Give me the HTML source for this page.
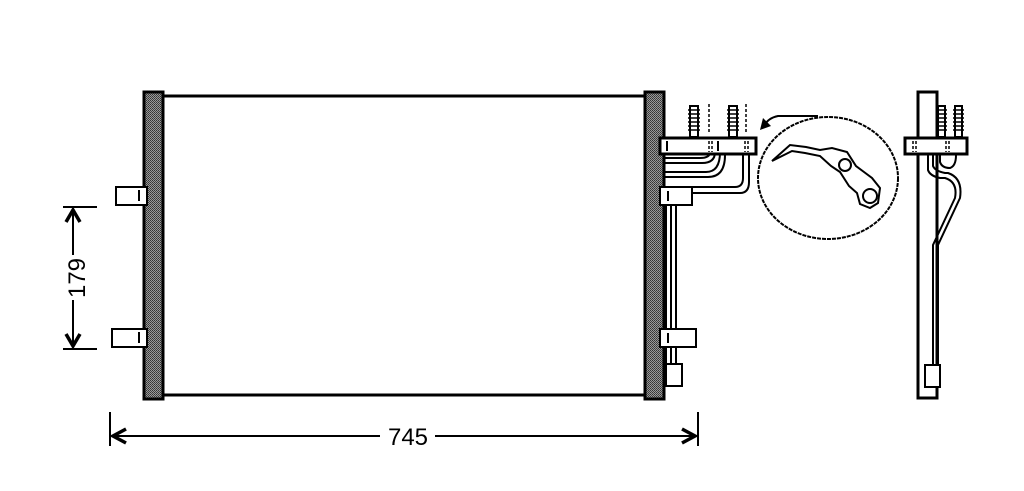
<!DOCTYPE html>
<html><head><meta charset="utf-8"><style>
html,body{margin:0;padding:0;background:#fff;width:1024px;height:491px;overflow:hidden}
text{font-family:"Liberation Sans",sans-serif}
</style></head><body>
<svg width="1024" height="491" viewBox="0 0 1024 491" xmlns="http://www.w3.org/2000/svg">
<defs>
<pattern id="h" width="2" height="2" patternUnits="userSpaceOnUse">
<rect width="2" height="2" fill="#999"/><rect width="1" height="1" fill="#333"/><rect x="1" y="1" width="1" height="1" fill="#444"/>
</pattern>
</defs>
<g fill="none" stroke="#000" stroke-width="3">
<line x1="162" y1="96" x2="645" y2="96"/>
<line x1="162" y1="395" x2="645" y2="395"/>
</g>
<rect x="144" y="92" width="19" height="307" fill="url(#h)" stroke="#000" stroke-width="3"/>
<rect x="645" y="92" width="19" height="307" fill="url(#h)" stroke="#000" stroke-width="3"/>
<g fill="#fff" stroke="#000" stroke-width="2">
<rect x="116" y="187" width="31" height="18"/>
<rect x="112" y="329" width="35" height="18"/>
</g>
<line x1="139" y1="190" x2="139" y2="201" stroke="#000" stroke-width="2"/>
<line x1="139" y1="332" x2="139" y2="343" stroke="#000" stroke-width="2"/>
<g stroke="#000" stroke-width="2" fill="none">
<line x1="63" y1="207" x2="97" y2="207"/>
<line x1="63" y1="349" x2="97" y2="349"/>
<line x1="73" y1="209" x2="73" y2="255"/>
<line x1="73" y1="300" x2="73" y2="347"/>
<line x1="110" y1="412" x2="110" y2="446"/>
<line x1="698" y1="412" x2="698" y2="446"/>
<line x1="112" y1="436" x2="380" y2="436"/>
<line x1="435" y1="436" x2="696" y2="436"/>
</g>
<g stroke="#000" stroke-width="3.5" fill="none" stroke-linejoin="miter">
<polyline points="66,222 73,210 80,222"/>
<polyline points="66,334 73,346 80,334"/>
<polyline points="126,429 113,436 126,443"/>
<polyline points="682,429 695,436 682,443"/>
</g>
<text x="408" y="445" font-size="24" text-anchor="middle">745</text>
<text transform="translate(85,278) rotate(-90)" font-size="24" text-anchor="middle">179</text>
<g fill="none" stroke="#000" stroke-width="2">
<line x1="666" y1="205" x2="666" y2="365"/>
<line x1="671" y1="205" x2="671" y2="365"/>
<line x1="676" y1="205" x2="676" y2="365"/>
<path d="M664 158 H700 Q710 158 710 152"/>
<path d="M664 163 H702 Q715 163 715 152"/>
<path d="M664 172 H706 Q720 172 720 152"/>
<path d="M664 177 H708 Q725 177 725 155"/>
<path d="M690 187 H735 Q743 187 743 178 V155"/>
<path d="M690 193 H740 Q749 193 749 182 V155"/>
</g>
<g fill="#fff" stroke="#000" stroke-width="2">
<rect x="660" y="187" width="32" height="18"/>
<rect x="660" y="329" width="36" height="18"/>
<rect x="666" y="364" width="16" height="22"/>
<rect x="660" y="138" width="96" height="16" stroke-width="3"/>
</g>
<g stroke="#000" stroke-width="2">
<line x1="667" y1="141" x2="667" y2="151"/>
<line x1="718" y1="141" x2="718" y2="151"/>
<line x1="668" y1="191" x2="668" y2="201"/>
<line x1="668" y1="333" x2="668" y2="343"/>
</g>
<g stroke="#000" stroke-width="1.5" stroke-dasharray="3,2">
<line x1="709" y1="141" x2="709" y2="152"/><line x1="712" y1="141" x2="712" y2="152"/>
<line x1="745" y1="141" x2="745" y2="152"/><line x1="748" y1="141" x2="748" y2="152"/>
<line x1="709" y1="104" x2="709" y2="134"/><line x1="746" y1="104" x2="746" y2="134"/>
</g>
<g stroke="#000" stroke-width="2" fill="#fff">
<rect x="690" y="106" width="8" height="31"/>
<rect x="729" y="106" width="8" height="31"/>
</g>
<g stroke="#000" stroke-width="1.5">
<path d="M688 110h12M688 114h12M688 118h12M688 122h12M688 126h12M688 130h12"/>
<path d="M727 110h12M727 114h12M727 118h12M727 122h12M727 126h12M727 130h12"/>
</g>
<ellipse cx="828" cy="178" rx="70" ry="61" fill="none" stroke="#000" stroke-width="2" stroke-dasharray="4,1"/>
<path d="M818 116 H778 Q768 118 764 126" fill="none" stroke="#000" stroke-width="2"/>
<polygon points="760,130 763,118 771,126" fill="#000"/>
<g fill="none" stroke="#000" stroke-width="2">
<path d="M772 161 L790 145 L806 147 L820 150 L832 148 L847 152 L856 166 L864 172 L872 178 L880 188 L878 203 L870 208 L860 204 L857 193 L849 186 L840 172 L831 166 L820 156 L805 153 L792 151 Z" fill="#fff"/>
<circle cx="845" cy="165" r="6"/>
<circle cx="870" cy="196" r="7"/>
</g>
<rect x="918" y="92" width="19" height="306" fill="#fff" stroke="#000" stroke-width="3"/>
<g fill="none" stroke="#000" stroke-width="2">
<path d="M928 155 V170 Q930 176 940 178 H945 Q958 182 955 198 L933 245 V365"/>
<path d="M933 155 V166 Q935 171 945 173 H948 Q963 178 960 198 L938 245 V365"/>
<path d="M940 155 V162 Q942 168 950 168 Q956 166 956 155"/>
</g>
<rect x="925" y="365" width="15" height="22" fill="#fff" stroke="#000" stroke-width="2"/>
<rect x="905" y="138" width="62" height="16" fill="#fff" stroke="#000" stroke-width="3"/>
<g stroke="#000" stroke-width="2" fill="#fff">
<rect x="938" y="106" width="7" height="31"/>
<rect x="955" y="106" width="7" height="31"/>
</g>
<g stroke="#000" stroke-width="1.5">
<path d="M936 110h11M936 114h11M936 118h11M936 122h11M936 126h11M936 130h11"/>
<path d="M953 110h11M953 114h11M953 118h11M953 122h11M953 126h11M953 130h11"/>
</g>
<g stroke="#000" stroke-width="1.5" stroke-dasharray="3,2">
<line x1="913" y1="141" x2="913" y2="152"/><line x1="916" y1="141" x2="916" y2="152"/>
<line x1="946" y1="141" x2="946" y2="152"/><line x1="949" y1="141" x2="949" y2="152"/>
</g>
</svg>
</body></html>
